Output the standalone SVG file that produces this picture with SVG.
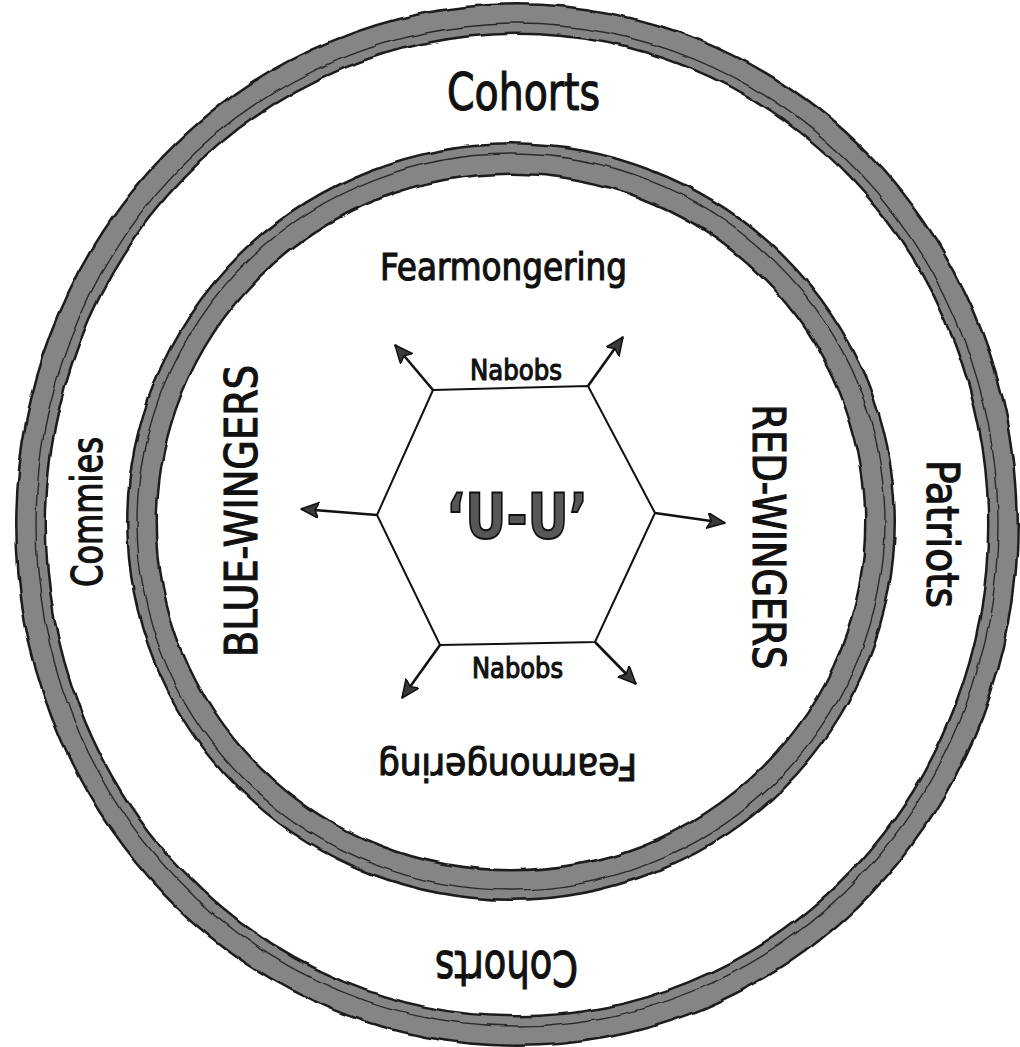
<svg xmlns="http://www.w3.org/2000/svg" width="1020" height="1047" viewBox="0 0 1020 1047">
  <defs>
    <style>
      .t { font-family: "DejaVu Sans Condensed", "DejaVu Sans", "Liberation Sans", sans-serif; fill: #111; stroke: #111; stroke-width: 1.1; }
      .edge { fill: none; stroke: #1e1e1e; stroke-width: 32; }
      .band { fill: none; stroke: #858585; stroke-width: 27; }
      .thin { fill: none; stroke: #2a2a2a; stroke-width: 1.4; }
      .hex { fill: none; stroke: #111; stroke-width: 2; stroke-linejoin: miter; }
      .arr { fill: none; stroke: #111; stroke-width: 2.6; marker-end: url(#head); }
    </style>
    <marker id="head" markerUnits="userSpaceOnUse" markerWidth="22" markerHeight="18" refX="18" refY="8" orient="auto">
      <path d="M0,0 L18,8 L0,16 L4,8 Z" fill="#3a3a3a" stroke="#111" stroke-width="1.5" stroke-linejoin="round"/>
    </marker>
    <filter id="rough" x="-5%" y="-5%" width="110%" height="110%">
      <feTurbulence type="fractalNoise" baseFrequency="0.03" numOctaves="2" seed="4" result="n"/>
      <feDisplacementMap in="SourceGraphic" in2="n" scale="5" xChannelSelector="R" yChannelSelector="G"/>
    </filter>
  </defs>
  <rect width="1020" height="1047" fill="#ffffff"/>

  <g id="ring-outer" filter="url(#rough)">
    <ellipse class="edge" cx="517" cy="525" rx="486" ry="506"/>
    <ellipse class="band" cx="517" cy="525" rx="486" ry="506"/>
    <ellipse class="thin" cx="517" cy="525" rx="481" ry="501"/>
  </g>
  <g id="ring-inner" filter="url(#rough)">
    <ellipse class="edge" cx="511" cy="522" rx="369" ry="363"/>
    <ellipse class="band" cx="511" cy="522" rx="369" ry="363"/>
    <ellipse class="thin" cx="511" cy="522" rx="374" ry="368"/>
  </g>

  <g id="hexagon">
    <polygon class="hex" points="433,390 588,386 655,513 595,642 440,645 377,515"/>
  </g>

  <g id="connectors">
    <line class="arr" x1="433" y1="390" x2="395" y2="345"/>
    <line class="arr" x1="588" y1="386" x2="623" y2="337"/>
    <line class="arr" x1="377" y1="515" x2="301" y2="509"/>
    <line class="arr" x1="655" y1="513" x2="725" y2="523"/>
    <line class="arr" x1="440" y1="645" x2="402" y2="698"/>
    <line class="arr" x1="595" y1="642" x2="636" y2="684"/>
  </g>

  <g id="labels">
    <text id="cohorts-top" class="t" x="523.5" y="110" font-size="51" text-anchor="middle" textLength="153" lengthAdjust="spacingAndGlyphs">Cohorts</text>
    <text id="fear-top" class="t" x="503.5" y="280" font-size="37" text-anchor="middle" textLength="247" lengthAdjust="spacingAndGlyphs">Fearmongering</text>
    <text id="nabobs-top" class="t" x="516" y="380" font-size="28" text-anchor="middle" textLength="92" lengthAdjust="spacingAndGlyphs">Nabobs</text>
    <text id="uu" x="517" y="538" font-size="62" font-weight="bold" text-anchor="middle" textLength="142" lengthAdjust="spacingAndGlyphs" style="font-family: 'DejaVu Sans', 'Liberation Sans', sans-serif; fill: #575757; stroke: #111; stroke-width: 2;">‘U-U’</text>
    <text id="nabobs-bottom" class="t" x="517.5" y="678" font-size="28" text-anchor="middle" textLength="91" lengthAdjust="spacingAndGlyphs">Nabobs</text>
    <text id="fear-bottom" class="t" transform="translate(507.5,754) rotate(180)" x="0" y="0" font-size="37" text-anchor="middle" textLength="259" lengthAdjust="spacingAndGlyphs">Fearmongering</text>
    <text id="cohorts-bottom" class="t" transform="translate(506.5,951) rotate(180)" x="0" y="0" font-size="50" text-anchor="middle" textLength="143" lengthAdjust="spacingAndGlyphs">Cohorts</text>
    <text id="commies" class="t" transform="translate(102,512) rotate(-90)" x="0" y="0" font-size="42" text-anchor="middle" textLength="150" lengthAdjust="spacingAndGlyphs">Commies</text>
    <text id="blue" class="t" transform="translate(257,511) rotate(-90)" x="0" y="0" font-size="44" text-anchor="middle" textLength="292" lengthAdjust="spacingAndGlyphs">BLUE-WINGERS</text>
    <text id="red" class="t" transform="translate(753,537) rotate(90)" x="0" y="0" font-size="44" text-anchor="middle" textLength="265" lengthAdjust="spacingAndGlyphs">RED-WINGERS</text>
    <text id="patriots" class="t" transform="translate(927,534) rotate(90)" x="0" y="0" font-size="44" text-anchor="middle" textLength="148" lengthAdjust="spacingAndGlyphs">Patriots</text>
  </g>
</svg>
